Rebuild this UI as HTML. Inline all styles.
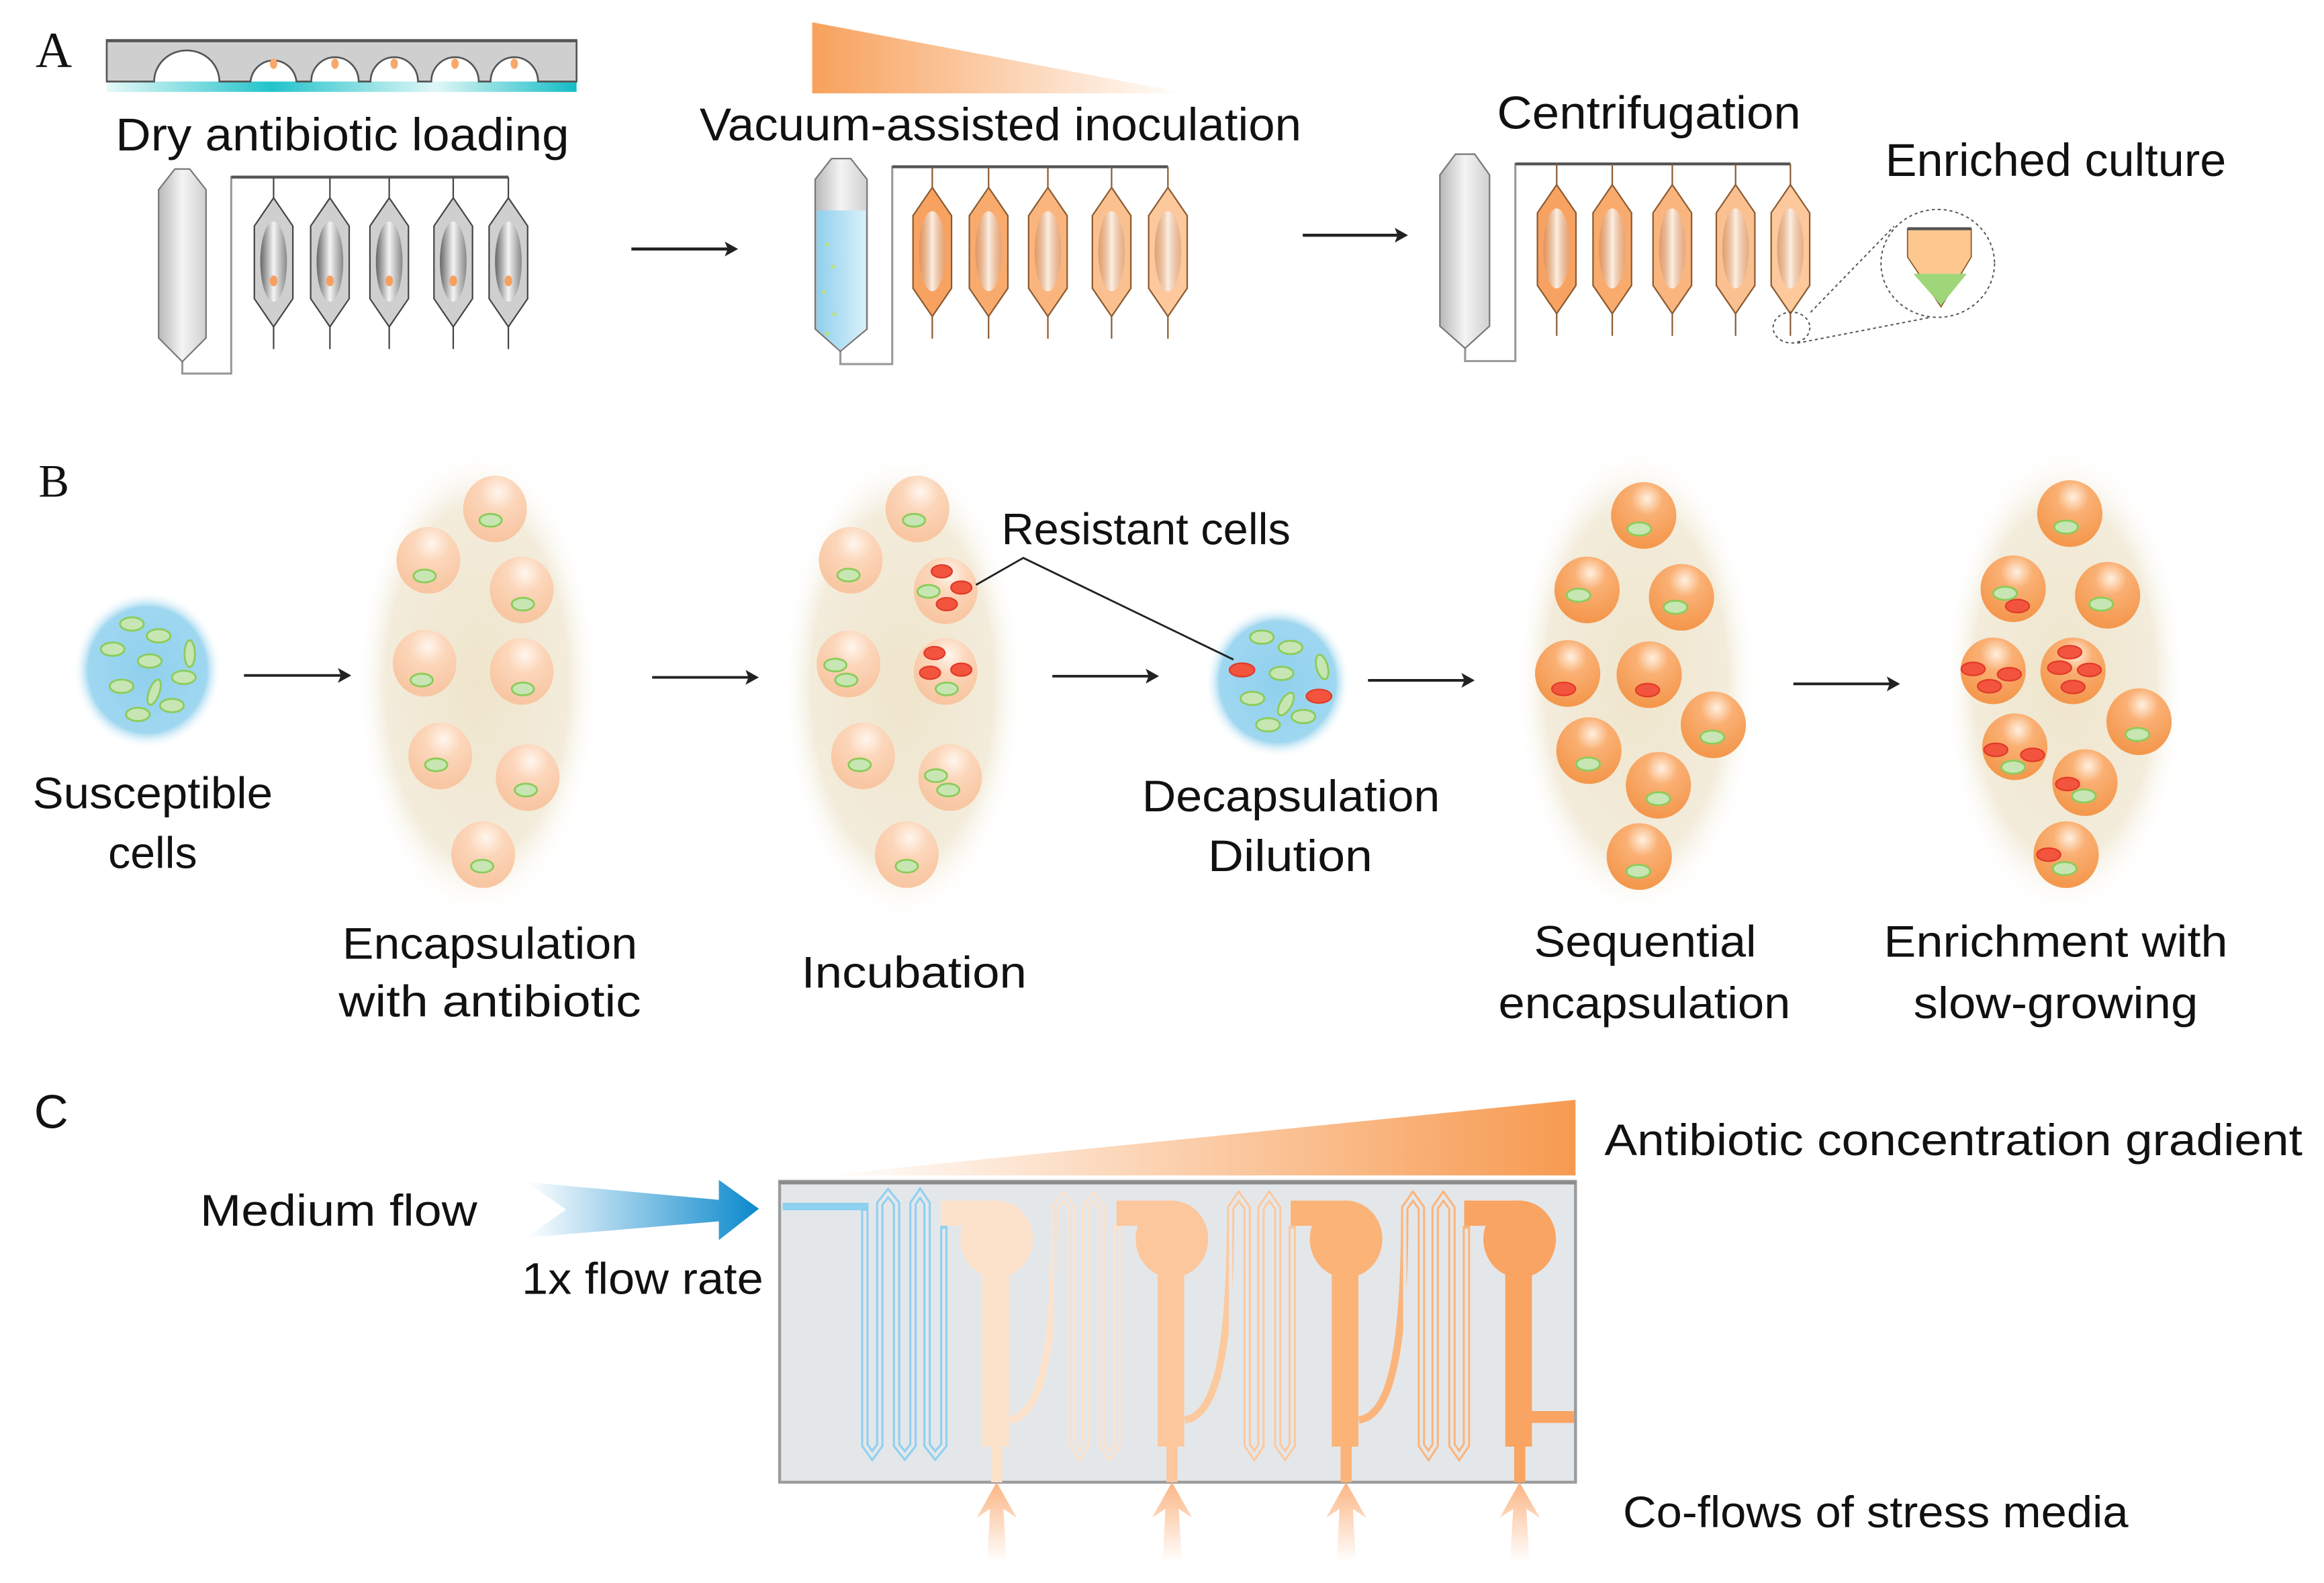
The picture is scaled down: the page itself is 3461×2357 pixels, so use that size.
<!DOCTYPE html>
<html><head><meta charset="utf-8"><style>
html,body{margin:0;padding:0;background:#fff;}
svg{display:block;}
text{font-family:"Liberation Sans",sans-serif;fill:#111;}
</style></head><body>
<svg width="3461" height="2357" viewBox="0 0 1568 1068" preserveAspectRatio="none" xmlns="http://www.w3.org/2000/svg">
<defs>
<linearGradient id="tri1" x1="0" y1="0" x2="1" y2="0"><stop offset="0" stop-color="#f8a15c"/><stop offset="1" stop-color="#fff"/></linearGradient>
<linearGradient id="tri2" x1="0" y1="0" x2="1" y2="0"><stop offset="0" stop-color="#fff"/><stop offset="1" stop-color="#f79a50"/></linearGradient>
<linearGradient id="cyan" x1="0" y1="0" x2="1" y2="0"><stop offset="0" stop-color="#e6f8f8"/><stop offset="0.35" stop-color="#22c4cc"/><stop offset="0.7" stop-color="#e0f6f6"/><stop offset="1" stop-color="#12bcc6"/></linearGradient>
<linearGradient id="tube" x1="0" y1="0" x2="1" y2="0"><stop offset="0" stop-color="#b8b8b8"/><stop offset="0.5" stop-color="#f4f4f4"/><stop offset="1" stop-color="#d0d0d0"/></linearGradient>
<linearGradient id="liq" x1="0" y1="0" x2="1" y2="0"><stop offset="0" stop-color="#8fd0ee"/><stop offset="1" stop-color="#d8f0fa"/></linearGradient>
<linearGradient id="inner" x1="0" y1="0" x2="1" y2="0"><stop offset="0" stop-color="#666"/><stop offset="0.5" stop-color="#f4f4f4"/><stop offset="1" stop-color="#888"/></linearGradient>
<linearGradient id="innerO" x1="0" y1="0" x2="1" y2="0"><stop offset="0" stop-color="#d08a5a" stop-opacity="0.6"/><stop offset="0.5" stop-color="#fbeee2"/><stop offset="1" stop-color="#d8a07a" stop-opacity="0.6"/></linearGradient>
<linearGradient id="barrow" x1="0" y1="0" x2="1" y2="0"><stop offset="0" stop-color="#fff"/><stop offset="1" stop-color="#0a88cc"/></linearGradient>
<linearGradient id="uarrow" x1="0" y1="0" x2="0" y2="1"><stop offset="0" stop-color="#fbb584"/><stop offset="1" stop-color="#fff"/></linearGradient>
<radialGradient id="halo" cx="0.5" cy="0.5" r="0.5"><stop offset="0" stop-color="#efe5cc"/><stop offset="0.75" stop-color="#f3ecdb"/><stop offset="1" stop-color="#fff" stop-opacity="0"/></radialGradient>
<radialGradient id="disc" cx="0.5" cy="0.5" r="0.5"><stop offset="0" stop-color="#8fd0ee"/><stop offset="0.8" stop-color="#9fd7f0"/><stop offset="1" stop-color="#fff" stop-opacity="0"/></radialGradient>
<radialGradient id="beadL" cx="0.55" cy="0.25" r="0.7"><stop offset="0" stop-color="#fff6ee"/><stop offset="0.4" stop-color="#fcd6ba"/><stop offset="1" stop-color="#f8c6a2"/></radialGradient>
<radialGradient id="beadD" cx="0.55" cy="0.25" r="0.7"><stop offset="0" stop-color="#fff0e0"/><stop offset="0.35" stop-color="#fab074"/><stop offset="1" stop-color="#f4984e"/></radialGradient>
<path id="hex" d="M0,14 L13,33 L13,82 L0,101 L-13,82 L-13,33 Z"/>
</defs>

<!-- ============ PANEL A ============ -->
<text x="24" y="45" style="font-family:'Liberation Serif',serif;font-size:34px">A</text>
<rect x="72" y="55" width="317" height="7" fill="url(#cyan)"/>
<path d="M72,27 H389 V55 H363 A15.6,16 0 0 0 331,55 H323 A15.6,16 0 0 0 291,55 H282 A15.6,16 0 0 0 250,55 H242 A15.6,16 0 0 0 210,55 H200 A15.6,16 0 0 0 169,55 H148 A22,21 0 0 0 104,55 H72 Z" fill="#cfcfcf" stroke="#555" stroke-width="1.2"/>
<line x1="72" y1="27.5" x2="389" y2="27.5" stroke="#555" stroke-width="2"/>
<g fill="#f7a86a"><ellipse cx="184.6" cy="43" rx="2.5" ry="3.5"/><ellipse cx="226" cy="43" rx="2.5" ry="3.5"/><ellipse cx="266" cy="43" rx="2.5" ry="3.5"/><ellipse cx="307" cy="43" rx="2.5" ry="3.5"/><ellipse cx="347" cy="43" rx="2.5" ry="3.5"/></g>
<text x="78" y="101.6" style="font-size:31px" textLength="306" lengthAdjust="spacingAndGlyphs">Dry antibiotic loading</text>

<!-- device 1 -->
<polyline points="123,244 123,252 156,252 156,119.5 343,119.5" fill="none" stroke="#999" stroke-width="1.4"/>
<line x1="156" y1="119.5" x2="343" y2="119.5" stroke="#555" stroke-width="2"/>
<polygon points="107,128 118,114 128,114 139,128 139,228 123,244 107,228" fill="url(#tube)" stroke="#777" stroke-width="1"/>
<g stroke="#444" stroke-width="1">
<g transform="translate(184.6,119.5)"><line x1="0" y1="0" x2="0" y2="116"/><use href="#hex" fill="#cfcfcf"/><ellipse cx="0" cy="57" rx="9" ry="27" fill="url(#inner)" stroke="none"/><ellipse cx="0" cy="70" rx="2.6" ry="3.6" fill="#f7a060" stroke="none"/></g>
<g transform="translate(222.6,119.5)"><line x1="0" y1="0" x2="0" y2="116"/><use href="#hex" fill="#cfcfcf"/><ellipse cx="0" cy="57" rx="9" ry="27" fill="url(#inner)" stroke="none"/><ellipse cx="0" cy="70" rx="2.6" ry="3.6" fill="#f7a060" stroke="none"/></g>
<g transform="translate(262.6,119.5)"><line x1="0" y1="0" x2="0" y2="116"/><use href="#hex" fill="#cfcfcf"/><ellipse cx="0" cy="57" rx="9" ry="27" fill="url(#inner)" stroke="none"/><ellipse cx="0" cy="70" rx="2.6" ry="3.6" fill="#f7a060" stroke="none"/></g>
<g transform="translate(305.8,119.5)"><line x1="0" y1="0" x2="0" y2="116"/><use href="#hex" fill="#cfcfcf"/><ellipse cx="0" cy="57" rx="9" ry="27" fill="url(#inner)" stroke="none"/><ellipse cx="0" cy="70" rx="2.6" ry="3.6" fill="#f7a060" stroke="none"/></g>
<g transform="translate(343,119.5)"><line x1="0" y1="0" x2="0" y2="116"/><use href="#hex" fill="#cfcfcf"/><ellipse cx="0" cy="57" rx="9" ry="27" fill="url(#inner)" stroke="none"/><ellipse cx="0" cy="70" rx="2.6" ry="3.6" fill="#f7a060" stroke="none"/></g>
</g>
<line x1="426" y1="168" x2="492" y2="168" stroke="#222" stroke-width="2"/>
<polygon points="498,168 489,163 491,168 489,173" fill="#222"/>

<!-- device 2 -->
<polygon points="548,15 548,63 801,63" fill="url(#tri1)"/>
<text x="472" y="94.6" style="font-size:31px" textLength="406" lengthAdjust="spacingAndGlyphs">Vacuum-assisted inoculation</text>
<polyline points="567,237 567,245.6 602,245.6 602,112.5 788,112.5" fill="none" stroke="#999" stroke-width="1.4"/>
<line x1="602" y1="112.5" x2="788" y2="112.5" stroke="#555" stroke-width="2"/>
<polygon points="550,121 561,107 574,107 585,121 585,222 567,237 550,222" fill="url(#tube)" stroke="#777" stroke-width="1"/>
<polygon points="551,142 584,142 584,222 567,236 551,222" fill="url(#liq)"/>
<g fill="#b8e08a"><circle cx="558" cy="165" r="1.5"/><circle cx="562" cy="180" r="1.5"/><circle cx="556" cy="197" r="1.5"/><circle cx="563" cy="212" r="1.5"/><circle cx="558" cy="225" r="1.5"/></g>
<g stroke="#8a5a30" stroke-width="1">
<g transform="translate(629,112.5)"><line x1="0" y1="0" x2="0" y2="116"/><use href="#hex" fill="#f8a262"/><ellipse cx="0" cy="57" rx="9" ry="27" fill="url(#innerO)" stroke="none"/></g>
<g transform="translate(667,112.5)"><line x1="0" y1="0" x2="0" y2="116"/><use href="#hex" fill="#f9ab6e"/><ellipse cx="0" cy="57" rx="9" ry="27" fill="url(#innerO)" stroke="none"/></g>
<g transform="translate(707,112.5)"><line x1="0" y1="0" x2="0" y2="116"/><use href="#hex" fill="#fab57e"/><ellipse cx="0" cy="57" rx="9" ry="27" fill="url(#innerO)" stroke="none"/></g>
<g transform="translate(750,112.5)"><line x1="0" y1="0" x2="0" y2="116"/><use href="#hex" fill="#fbc08f"/><ellipse cx="0" cy="57" rx="9" ry="27" fill="url(#innerO)" stroke="none"/></g>
<g transform="translate(788,112.5)"><line x1="0" y1="0" x2="0" y2="116"/><use href="#hex" fill="#fcc89c"/><ellipse cx="0" cy="57" rx="9" ry="27" fill="url(#innerO)" stroke="none"/></g>
</g>
<line x1="879" y1="158.7" x2="944" y2="158.7" stroke="#222" stroke-width="2"/>
<polygon points="950,158.7 941,153.7 943,158.7 941,163.7" fill="#222"/>

<!-- device 3 -->
<text x="1010" y="86.7" style="font-size:31px" textLength="205" lengthAdjust="spacingAndGlyphs">Centrifugation</text>
<text x="1272" y="118.8" style="font-size:31px" textLength="230" lengthAdjust="spacingAndGlyphs">Enriched culture</text>
<polyline points="988.5,235 988.5,243.6 1022.4,243.6 1022.4,110.6 1208,110.6" fill="none" stroke="#999" stroke-width="1.4"/>
<line x1="1022.4" y1="110.6" x2="1208" y2="110.6" stroke="#555" stroke-width="2"/>
<polygon points="971.5,118 982,104 995,104 1005,118 1005,220 988.5,235 971.5,220" fill="url(#tube)" stroke="#777" stroke-width="1"/>
<g stroke="#8a5a30" stroke-width="1">
<g transform="translate(1050.3,110.6)"><line x1="0" y1="0" x2="0" y2="116"/><use href="#hex" fill="#f8a262"/><ellipse cx="0" cy="57" rx="9" ry="27" fill="url(#innerO)" stroke="none"/></g>
<g transform="translate(1087.8,110.6)"><line x1="0" y1="0" x2="0" y2="116"/><use href="#hex" fill="#f9ab6e"/><ellipse cx="0" cy="57" rx="9" ry="27" fill="url(#innerO)" stroke="none"/></g>
<g transform="translate(1128.3,110.6)"><line x1="0" y1="0" x2="0" y2="116"/><use href="#hex" fill="#fab57e"/><ellipse cx="0" cy="57" rx="9" ry="27" fill="url(#innerO)" stroke="none"/></g>
<g transform="translate(1171,110.6)"><line x1="0" y1="0" x2="0" y2="116"/><use href="#hex" fill="#fbc08f"/><ellipse cx="0" cy="57" rx="9" ry="27" fill="url(#innerO)" stroke="none"/></g>
<g transform="translate(1208,110.6)"><line x1="0" y1="0" x2="0" y2="116"/><use href="#hex" fill="#fcc89c"/><ellipse cx="0" cy="57" rx="9" ry="27" fill="url(#innerO)" stroke="none"/></g>
</g>
<g fill="none" stroke="#555" stroke-width="0.9" stroke-dasharray="2,2">
<ellipse cx="1208.7" cy="221" rx="12.4" ry="10.4"/>
<ellipse cx="1307.4" cy="177.7" rx="38.3" ry="36.4"/>
<line x1="1221.6" y1="210.7" x2="1278" y2="152.6"/>
<line x1="1212.7" y1="231.5" x2="1303" y2="214"/>
</g>
<polygon points="1287,154.3 1330,154.3 1330,173.4 1309.6,207 1287,173.4" fill="#fdc890" stroke="#8a5a30" stroke-width="0.8"/>
<polygon points="1291,184.7 1327,184.7 1309.6,206" fill="#9fd67a"/>
<line x1="1287" y1="154.3" x2="1330" y2="154.3" stroke="#555" stroke-width="2"/>

<!-- ============ PANEL B ============ -->
<text x="26" y="335" style="font-family:'Liberation Serif',serif;font-size:31px">B</text>
<ellipse cx="99.5" cy="452" rx="50" ry="53" fill="url(#disc)"/>
<g fill="#c7e6b4" stroke="#8ccc5a" stroke-width="1.3">
<ellipse cx="89" cy="421" rx="8" ry="4.5"/><ellipse cx="107" cy="429" rx="8" ry="4.5"/><ellipse cx="76" cy="438" rx="8" ry="4.5"/><ellipse cx="101" cy="446" rx="8" ry="4.5"/><ellipse cx="128" cy="441" rx="3.5" ry="9"/><ellipse cx="124" cy="457" rx="8" ry="4.5"/><ellipse cx="82" cy="463" rx="8" ry="4.5"/><ellipse cx="104" cy="467" rx="3.5" ry="9" transform="rotate(20 104 467)"/><ellipse cx="116" cy="476" rx="8" ry="4.5"/><ellipse cx="93" cy="482" rx="8" ry="4.5"/>
</g>
<text x="103" y="545.4" text-anchor="middle" style="font-size:30px" textLength="162" lengthAdjust="spacingAndGlyphs">Susceptible</text>
<text x="103" y="585.7" text-anchor="middle" style="font-size:30px">cells</text>

<g stroke="#222" stroke-width="1.8">
<line x1="164.6" y1="455.7" x2="230" y2="455.7"/><line x1="440" y1="457" x2="505" y2="457"/><line x1="710" y1="456.2" x2="775" y2="456.2"/><line x1="923" y1="459" x2="988" y2="459"/><line x1="1210" y1="461.4" x2="1275" y2="461.4"/>
</g>
<g fill="#222">
<polygon points="237,455.7 228,450.7 230,455.7 228,460.7"/><polygon points="512,457 503,452 505,457 503,462"/><polygon points="782,456.2 773,451.2 775,456.2 773,461.2"/><polygon points="995,459 986,454 988,459 986,464"/><polygon points="1282,461.4 1273,456.4 1275,461.4 1273,466.4"/>
</g>

<ellipse cx="322" cy="461" rx="82" ry="160" fill="url(#halo)"/>
<ellipse cx="609" cy="463" rx="82" ry="160" fill="url(#halo)"/>
<ellipse cx="1104" cy="460" rx="82" ry="160" fill="url(#halo)"/>
<ellipse cx="1393" cy="460" rx="82" ry="160" fill="url(#halo)"/>

<g fill="url(#beadL)">
<ellipse cx="334" cy="343.4" rx="21.5" ry="22.5"/><ellipse cx="289" cy="378" rx="21.5" ry="22.5"/><ellipse cx="352" cy="398" rx="21.5" ry="22.5"/><ellipse cx="286.5" cy="447.4" rx="21.5" ry="22.5"/><ellipse cx="352" cy="453" rx="21.5" ry="22.5"/><ellipse cx="297" cy="510" rx="21.5" ry="22.5"/><ellipse cx="356" cy="524.6" rx="21.5" ry="22.5"/><ellipse cx="326" cy="576.6" rx="21.5" ry="22.5"/>
<ellipse cx="619" cy="343.4" rx="21.5" ry="22.5"/><ellipse cx="574" cy="378" rx="21.5" ry="22.5"/><ellipse cx="638" cy="398.5" rx="21.5" ry="22.5"/><ellipse cx="572.5" cy="448" rx="21.5" ry="22.5"/><ellipse cx="638" cy="453" rx="21.5" ry="22.5"/><ellipse cx="582.3" cy="510" rx="21.5" ry="22.5"/><ellipse cx="641" cy="524.6" rx="21.5" ry="22.5"/><ellipse cx="611.8" cy="576.6" rx="21.5" ry="22.5"/>
</g>
<g fill="url(#beadD)">
<ellipse cx="1109" cy="347.8" rx="22" ry="22.5"/><ellipse cx="1070.8" cy="398" rx="22" ry="22.5"/><ellipse cx="1134.5" cy="403" rx="22" ry="22.5"/><ellipse cx="1057.7" cy="454.4" rx="22" ry="22.5"/><ellipse cx="1112.7" cy="455.2" rx="22" ry="22.5"/><ellipse cx="1156" cy="489" rx="22" ry="22.5"/><ellipse cx="1072" cy="506.4" rx="22" ry="22.5"/><ellipse cx="1118.9" cy="529.8" rx="22" ry="22.5"/><ellipse cx="1106" cy="577.9" rx="22" ry="22.5"/>
<ellipse cx="1396.5" cy="346.5" rx="22" ry="22.5"/><ellipse cx="1358.3" cy="397.2" rx="22" ry="22.5"/><ellipse cx="1422" cy="401.6" rx="22" ry="22.5"/><ellipse cx="1344.8" cy="452.6" rx="22" ry="22.5"/><ellipse cx="1398.7" cy="452.6" rx="22" ry="22.5"/><ellipse cx="1443.2" cy="486.9" rx="22" ry="22.5"/><ellipse cx="1359.4" cy="503.8" rx="22" ry="22.5"/><ellipse cx="1406.7" cy="528" rx="22" ry="22.5"/><ellipse cx="1394" cy="576.6" rx="22" ry="22.5"/>
</g>
<ellipse cx="862" cy="460" rx="49" ry="51" fill="url(#disc)"/>
<g fill="#c7e6b4" stroke="#8ccc5a" stroke-width="1.3">
<ellipse cx="331" cy="351" rx="7.5" ry="4.3"/><ellipse cx="286.5" cy="388.6" rx="7.5" ry="4.3"/><ellipse cx="352.8" cy="407.6" rx="7.5" ry="4.3"/><ellipse cx="284.5" cy="458.8" rx="7.5" ry="4.3"/><ellipse cx="352.8" cy="464.8" rx="7.5" ry="4.3"/><ellipse cx="294.3" cy="516" rx="7.5" ry="4.3"/><ellipse cx="354.8" cy="533" rx="7.5" ry="4.3"/><ellipse cx="325.3" cy="584.4" rx="7.5" ry="4.3"/>
<ellipse cx="616.7" cy="351" rx="7.5" ry="4.3"/><ellipse cx="572.5" cy="388" rx="7.5" ry="4.3"/><ellipse cx="626.5" cy="399" rx="7.5" ry="4.3"/><ellipse cx="563.6" cy="448.7" rx="7.5" ry="4.3"/><ellipse cx="571" cy="458.8" rx="7.5" ry="4.3"/><ellipse cx="638.8" cy="464.8" rx="7.5" ry="4.3"/><ellipse cx="580" cy="516" rx="7.5" ry="4.3"/><ellipse cx="631.5" cy="523.3" rx="7.5" ry="4.3"/><ellipse cx="639.8" cy="533" rx="7.5" ry="4.3"/><ellipse cx="611.8" cy="584.4" rx="7.5" ry="4.3"/>
<ellipse cx="851.4" cy="429.9" rx="8" ry="4.5"/><ellipse cx="870.7" cy="436.8" rx="8" ry="4.5"/><ellipse cx="892" cy="450" rx="3.8" ry="8.5" transform="rotate(-15 892 450)"/><ellipse cx="864.6" cy="454.3" rx="8" ry="4.5"/><ellipse cx="845" cy="471.2" rx="8" ry="4.5"/><ellipse cx="867.6" cy="475" rx="3.8" ry="8.5" transform="rotate(30 867.6 475)"/><ellipse cx="879.4" cy="483.4" rx="8" ry="4.5"/><ellipse cx="855.5" cy="489" rx="8" ry="4.5"/>
<ellipse cx="1106" cy="356.9" rx="8" ry="4.4"/><ellipse cx="1065" cy="401.6" rx="8" ry="4.4"/><ellipse cx="1130.5" cy="409.7" rx="8" ry="4.4"/><ellipse cx="1155.3" cy="497.3" rx="8" ry="4.4"/><ellipse cx="1071.5" cy="515.5" rx="8" ry="4.4"/><ellipse cx="1118.9" cy="538.9" rx="8" ry="4.4"/><ellipse cx="1105.4" cy="587.8" rx="8" ry="4.4"/>
<ellipse cx="1394" cy="355.6" rx="8" ry="4.4"/><ellipse cx="1352.8" cy="400.3" rx="8" ry="4.4"/><ellipse cx="1417.7" cy="407.6" rx="8" ry="4.4"/><ellipse cx="1442.1" cy="495.5" rx="8" ry="4.4"/><ellipse cx="1358.3" cy="517.6" rx="8" ry="4.4"/><ellipse cx="1406" cy="537" rx="8" ry="4.4"/><ellipse cx="1393" cy="586" rx="8" ry="4.4"/>
</g>
<g fill="#f2543e" stroke="#e03a28" stroke-width="1">
<ellipse cx="635.4" cy="385.5" rx="7" ry="4.3"/><ellipse cx="648.6" cy="396.4" rx="7" ry="4.3"/><ellipse cx="638.8" cy="407.6" rx="7" ry="4.3"/>
<ellipse cx="630.5" cy="440.6" rx="7" ry="4.3"/><ellipse cx="627.5" cy="453.9" rx="7" ry="4.3"/><ellipse cx="648.6" cy="451.8" rx="7" ry="4.3"/>
<ellipse cx="838" cy="452" rx="8.5" ry="4.6"/><ellipse cx="889.9" cy="469.7" rx="8.5" ry="4.6"/>
<ellipse cx="1055" cy="464.8" rx="8" ry="4.4"/><ellipse cx="1111.6" cy="465.6" rx="8" ry="4.4"/>
<ellipse cx="1361.2" cy="408.9" rx="8" ry="4.4"/><ellipse cx="1331.3" cy="451.3" rx="8" ry="4.4"/><ellipse cx="1355.7" cy="454.9" rx="8" ry="4.4"/><ellipse cx="1342.3" cy="463" rx="8" ry="4.4"/>
<ellipse cx="1396.5" cy="440" rx="8" ry="4.4"/><ellipse cx="1389.6" cy="450.5" rx="8" ry="4.4"/><ellipse cx="1409.7" cy="452" rx="8" ry="4.4"/><ellipse cx="1398.7" cy="463.5" rx="8" ry="4.4"/>
<ellipse cx="1346.6" cy="505.9" rx="8" ry="4.4"/><ellipse cx="1371.4" cy="509.3" rx="8" ry="4.4"/><ellipse cx="1395" cy="529" rx="8" ry="4.4"/><ellipse cx="1382.3" cy="576.6" rx="8" ry="4.4"/>
</g>

<polyline points="658.5,394.6 690.4,376.4 832.2,445" fill="none" stroke="#222" stroke-width="1.3"/>
<text x="675.7" y="367.3" style="font-size:30px" textLength="195" lengthAdjust="spacingAndGlyphs">Resistant cells</text>

<text x="330.5" y="646.8" text-anchor="middle" style="font-size:30px" textLength="199" lengthAdjust="spacingAndGlyphs">Encapsulation</text>
<text x="330.5" y="685.8" text-anchor="middle" style="font-size:30px" textLength="204" lengthAdjust="spacingAndGlyphs">with antibiotic</text>
<text x="616.7" y="666.3" text-anchor="middle" style="font-size:30px" textLength="152" lengthAdjust="spacingAndGlyphs">Incubation</text>
<text x="871" y="547.3" text-anchor="middle" style="font-size:30px" textLength="201" lengthAdjust="spacingAndGlyphs">Decapsulation</text>
<text x="870.5" y="587.6" text-anchor="middle" style="font-size:30px" textLength="111" lengthAdjust="spacingAndGlyphs">Dilution</text>
<text x="1110" y="645.5" text-anchor="middle" style="font-size:30px" textLength="150" lengthAdjust="spacingAndGlyphs">Sequential</text>
<text x="1109.5" y="687" text-anchor="middle" style="font-size:30px" textLength="197" lengthAdjust="spacingAndGlyphs">encapsulation</text>
<text x="1387" y="645.5" text-anchor="middle" style="font-size:30px" textLength="232" lengthAdjust="spacingAndGlyphs">Enrichment with</text>
<text x="1387" y="687" text-anchor="middle" style="font-size:30px" textLength="192" lengthAdjust="spacingAndGlyphs">slow-growing</text>

<!-- ============ PANEL C ============ -->
<text x="23" y="761" style="font-size:32px">C</text>
<polygon points="555,793 1063,742 1063,793" fill="url(#tri2)"/>
<text x="1082.5" y="779.3" style="font-size:30px" textLength="471" lengthAdjust="spacingAndGlyphs">Antibiotic concentration gradient</text>
<text x="135" y="827" style="font-size:30px" textLength="187" lengthAdjust="spacingAndGlyphs">Medium flow</text>
<text x="352" y="873" style="font-size:30px" textLength="163" lengthAdjust="spacingAndGlyphs">1x flow rate</text>
<polygon points="355,797.5 485,809.5 485,796 512,815.5 485,836.7 485,824 355,835 382,816" fill="url(#barrow)"/>
<text x="1095" y="1030.5" style="font-size:30px" textLength="341" lengthAdjust="spacingAndGlyphs">Co-flows of stress media</text>

<rect x="526" y="797" width="537" height="203" fill="#e4e7ea" stroke="#9c9c9c" stroke-width="2"/>
<line x1="526" y1="798" x2="1063" y2="798" stroke="#8a8a8a" stroke-width="2.2"/>

<path d="M528,814 H583.5 V975 L588.5,982 L593.6,975 V812 L599.2,805 L604.9,812 V975 L610.5,982 L616,975 V812 L620.8,805 L625.5,812 V975 L631,982 L636.8,975 V827" fill="none" stroke="#8fd0f0" stroke-width="5"/>
<path d="M583.5,817 V975 L588.5,982 L593.6,975 V812 L599.2,805 L604.9,812 V975 L610.5,982 L616,975 V812 L620.8,805 L625.5,812 V975 L631,982 L636.8,975 V829" fill="none" stroke="#e4e7ea" stroke-width="2.2"/>

<g fill="none">
<path d="M681,958 C705,955 712,900 712,815 L717.5,807 L723.2,815 V975 L728,982 L732.5,975 V815 L738,807 L743.8,815 V975 L748.7,982 L753.6,975 V827" stroke="#fde2cb" stroke-width="5"/>
<path d="M712,900 V815 L717.5,807 L723.2,815 V975 L728,982 L732.5,975 V815 L738,807 L743.8,815 V975 L748.7,982 L753.6,975 V829" stroke="#e4e7ea" stroke-width="2.2"/>
<g transform="translate(118.3,0)">
<path d="M681,958 C705,955 712,900 712,815 L717.5,807 L723.2,815 V975 L728,982 L732.5,975 V815 L738,807 L743.8,815 V975 L748.7,982 L753.6,975 V827" stroke="#fcc99f" stroke-width="5"/>
<path d="M712,900 V815 L717.5,807 L723.2,815 V975 L728,982 L732.5,975 V815 L738,807 L743.8,815 V975 L748.7,982 L753.6,975 V829" stroke="#e4e7ea" stroke-width="2.2"/>
</g>
<g transform="translate(235.8,0)">
<path d="M681,958 C705,955 712,900 712,815 L717.5,807 L723.2,815 V975 L728,982 L732.5,975 V815 L738,807 L743.8,815 V975 L748.7,982 L753.6,975 V827" stroke="#fbb57c" stroke-width="5"/>
<path d="M712,900 V815 L717.5,807 L723.2,815 V975 L728,982 L732.5,975 V815 L738,807 L743.8,815 V975 L748.7,982 L753.6,975 V829" stroke="#e4e7ea" stroke-width="2.2"/>
</g>
</g>

<g fill="#fde2cb"><rect x="635" y="810" width="38" height="17"/><ellipse cx="672.4" cy="836" rx="24.5" ry="26"/><rect x="662.7" y="850" width="18" height="126"/><rect x="668.7" y="975" width="7.5" height="25"/></g>
<g fill="#fcc79d" transform="translate(118.3,0)"><rect x="635" y="810" width="38" height="17"/><ellipse cx="672.4" cy="836" rx="24.5" ry="26"/><rect x="662.7" y="850" width="18" height="126"/><rect x="668.7" y="975" width="7.5" height="25"/></g>
<g fill="#fbb378" transform="translate(235.8,0)"><rect x="635" y="810" width="38" height="17"/><ellipse cx="672.4" cy="836" rx="24.5" ry="26"/><rect x="662.7" y="850" width="18" height="126"/><rect x="668.7" y="975" width="7.5" height="25"/></g>
<g fill="#f9a462" transform="translate(352.9,0)"><rect x="635" y="810" width="38" height="17"/><ellipse cx="672.4" cy="836" rx="24.5" ry="26"/><rect x="662.7" y="850" width="18" height="126"/><rect x="668.7" y="975" width="7.5" height="25"/></g>
<rect x="1030" y="952" width="32" height="8" fill="#f9a462"/>

<g fill="url(#uarrow)">
<polygon points="672.4,1000 686,1024 677,1018 679,1054 666,1054 668,1018 659,1024"/>
<polygon points="790.7,1000 804.3,1024 795.3,1018 797.3,1054 784.3,1054 786.3,1018 777.3,1024"/>
<polygon points="908.2,1000 921.8,1024 912.8,1018 914.8,1054 901.8,1054 903.8,1018 894.8,1024"/>
<polygon points="1025.3,1000 1038.9,1024 1029.9,1018 1031.9,1054 1018.9,1054 1020.9,1018 1011.9,1024"/>
</g>
</svg>
</body></html>
